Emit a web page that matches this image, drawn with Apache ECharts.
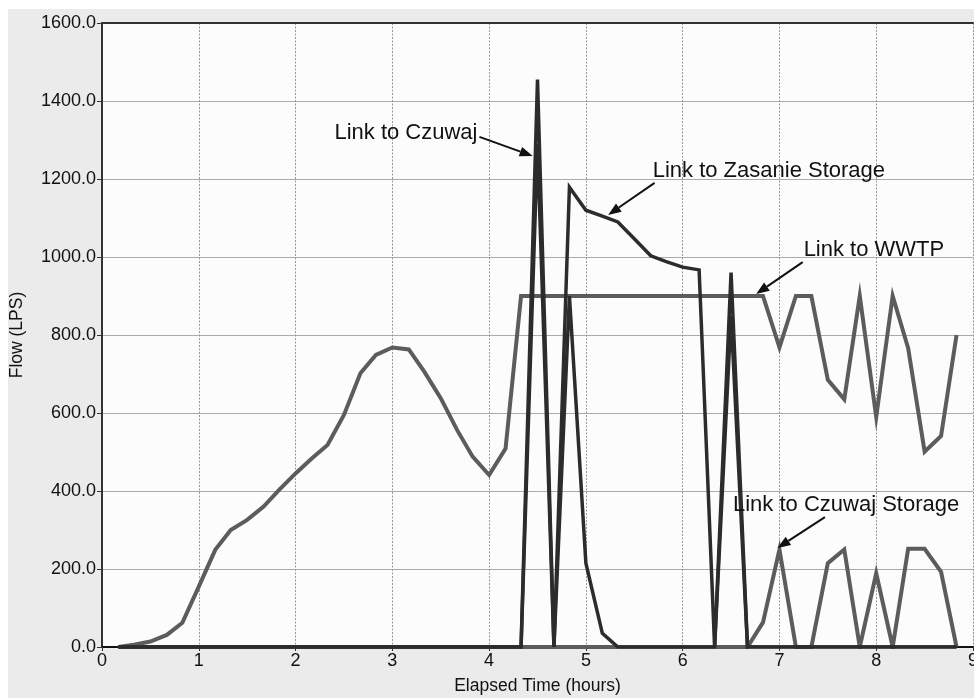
<!DOCTYPE html>
<html>
<head>
<meta charset="utf-8">
<script src="https://cdn.jsdelivr.net/npm/echarts@6/dist/echarts.min.js"></script>
<style>
  html, body { margin: 0; padding: 0; background: #fff; }
  #chart { position: absolute; left: 8px; top: 9px; width: 966px; height: 689px; background: #ebebeb; }
</style>
</head>
<body>
<div id="chart"></div>
<script>
// elapsed time, hours (10 minute steps)
const hours = [0.17, 0.33, 0.5, 0.67, 0.83, 1.0, 1.17, 1.33, 1.5, 1.67, 1.83, 2.0,
  2.17, 2.33, 2.5, 2.67, 2.83, 3.0, 3.17, 3.33, 3.5, 3.67, 3.83, 4.0,
  4.17, 4.33, 4.5, 4.67, 4.83, 5.0, 5.17, 5.33, 5.5, 5.67, 5.83, 6.0,
  6.17, 6.33, 6.5, 6.67, 6.83, 7.0, 7.17, 7.33, 7.5, 7.67, 7.83, 8.0,
  8.17, 8.33, 8.5, 8.67, 8.83];

// flows, LPS
const wwtp = [0, 6, 14, 31, 62, 155, 249, 300, 326, 360, 403, 445,
  484, 518, 595, 702, 749, 768, 763, 706, 638, 556, 488, 441,
  509, 900, 900, 900, 900, 900, 900, 900, 900, 900, 900, 900,
  900, 900, 900, 900, 900, 768, 900, 900, 685, 635, 900, 590,
  900, 766, 501, 541, 800];
const czuwaj = [0, 0, 0, 0, 0, 0, 0, 0, 0, 0, 0, 0,
  0, 0, 0, 0, 0, 0, 0, 0, 0, 0, 0, 0,
  0, 0, 1455, 0, 900, 215, 35, 0, 0, 0, 0, 0,
  0, 0, 960, 0, 0, 0, 0, 0, 0, 0, 0, 0,
  0, 0, 0, 0, 0];
const zasanie = [0, 0, 0, 0, 0, 0, 0, 0, 0, 0, 0, 0,
  0, 0, 0, 0, 0, 0, 0, 0, 0, 0, 0, 0,
  0, 0, 1290, 0, 1179, 1120, 1105, 1090, 1047, 1003, 988, 974,
  967, 0, 850, 0, 0, 0, 0, 0, 0, 0, 0, 0,
  0, 0, 0, 0, 0];
const czuwajStorage = [0, 0, 0, 0, 0, 0, 0, 0, 0, 0, 0, 0,
  0, 0, 0, 0, 0, 0, 0, 0, 0, 0, 0, 0,
  0, 0, 0, 0, 0, 0, 0, 0, 0, 0, 0, 0,
  0, 0, 0, 0, 63, 250, 0, 0, 215, 250, 0, 189,
  0, 252, 252, 193, 0];

// callouts: text anchor, arrow start, arrow tip (data coords)
const notes = [
  { text: "Link to Czuwaj", align: "right", at: [3.88, 1318], from: [3.90, 1308], to: [4.45, 1259] },
  { text: "Link to Zasanie Storage", align: "left", at: [5.69, 1221], from: [5.71, 1190], to: [5.23, 1108] },
  { text: "Link to WWTP", align: "left", at: [7.25, 1018], from: [7.24, 987], to: [6.76, 905] },
  { text: "Link to Czuwaj Storage", align: "left", at: [6.52, 364], from: [7.47, 333], to: [6.98, 254] }
];

const FONT = "'Liberation Sans', Arial, sans-serif";
const pair = (ys) => hours.map((h, i) => [h, ys[i]]);

function lineSeries(name, ys, color, width) {
  return {
    name, type: "line", data: pair(ys), showSymbol: false, symbol: "none",
    lineStyle: { color, width, join: "miter" }, animation: false, z: 3
  };
}

const chart = echarts.init(document.getElementById("chart"));
chart.setOption({
  animation: false,
  textStyle: { fontFamily: FONT },
  grid: {
    left: 94, right: 1, top: 14, bottom: 51, containLabel: false, outerBoundsMode: "none",
    show: true, backgroundColor: "#fcfcfc", borderWidth: 0
  },
  xAxis: [{
    type: "value", min: 0, max: 9, interval: 1,
    name: "Elapsed Time (hours)", nameLocation: "middle", nameGap: 30,
    nameTextStyle: { fontSize: 17.5, color: "#111", fontFamily: FONT },
    axisLine: { lineStyle: { color: "#111", width: 2 } },
    axisTick: { show: true, length: 4, lineStyle: { color: "#333" } },
    axisLabel: { fontSize: 18, color: "#111", margin: 5, fontFamily: FONT },
    splitLine: { show: true, lineStyle: { color: "#999", type: [2, 1.5], width: 1 } }
  }, {
    type: "value", min: 0, max: 9, position: "top",
    axisLine: { lineStyle: { color: "#333", width: 2 } },
    axisTick: { show: false }, axisLabel: { show: false }, splitLine: { show: false }
  }],
  yAxis: {
    type: "value", min: 0, max: 1600, interval: 200,
    name: "Flow (LPS)", nameLocation: "middle", nameGap: 76, nameRotate: 90,
    nameTextStyle: { fontSize: 17.5, color: "#111", fontFamily: FONT },
    axisLine: { show: true, lineStyle: { color: "#333", width: 2 } },
    axisTick: { show: true, length: 5, lineStyle: { color: "#333" } },
    axisLabel: { fontSize: 18, color: "#111", margin: 6, fontFamily: FONT, formatter: (v) => v.toFixed(1) },
    splitLine: { show: true, lineStyle: { color: "#aaa", width: 1 } }
  },
  series: [
    lineSeries("Link to WWTP", wwtp, "#5c5c5c", 4),
    lineSeries("Link to Czuwaj Storage", czuwajStorage, "#5c5c5c", 4),
    lineSeries("Link to Zasanie Storage", zasanie, "#2c2c2c", 3.5),
    lineSeries("Link to Czuwaj", czuwaj, "#2c2c2c", 3.5)
  ]
});

// callout text + arrows, placed through the axes
const px = (p) => chart.convertToPixel({ gridIndex: 0 }, p);
const graphics = [];
notes.forEach(n => {
  const a = px(n.at), s = px(n.from), t = px(n.to);
  graphics.push({
    type: "text", x: a[0], y: a[1], z: 10,
    style: { text: n.text, font: "22px " + FONT, fill: "#111", align: n.align, verticalAlign: "middle" }
  });
  const ang = Math.atan2(t[1] - s[1], t[0] - s[0]);
  const len = 13, half = 5;
  const bx = t[0] - len * Math.cos(ang), by = t[1] - len * Math.sin(ang);
  graphics.push({
    type: "line", z: 10,
    shape: { x1: s[0], y1: s[1], x2: bx, y2: by },
    style: { stroke: "#111", lineWidth: 2 }
  });
  graphics.push({
    type: "polygon", z: 10,
    shape: { points: [
      [t[0], t[1]],
      [bx + half * Math.sin(ang), by - half * Math.cos(ang)],
      [bx - half * Math.sin(ang), by + half * Math.cos(ang)]
    ] },
    style: { fill: "#111" }
  });
});
chart.setOption({ graphic: graphics });
</script>
</body>
</html>
